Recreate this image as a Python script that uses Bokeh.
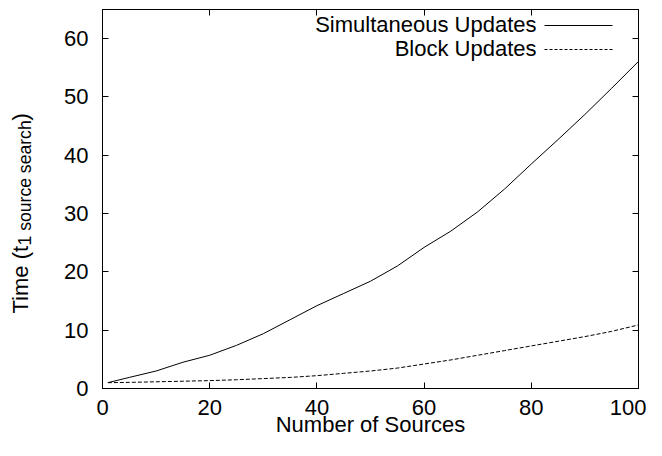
import math
from bokeh.plotting import figure
from bokeh.layouts import row
from bokeh.models import LinearAxis, Label, Range1d, FixedTicker, CustomJSTickFormatter
from bokeh.core.properties import value
from bokeh.embed import file_html
from bokeh.resources import INLINE

# ---- data ----
n_sources = [1, 5, 10, 15, 20, 25, 30, 35, 40, 45, 50, 55, 60, 65, 70, 75, 80, 85, 90, 95, 100]
simultaneous = [1.0, 1.9, 3.0, 4.5, 5.7, 7.4, 9.4, 11.8, 14.2, 16.3, 18.4, 21.0, 24.2, 27.0, 30.3, 34.2, 38.5, 42.7, 47.0, 51.5, 56.1]
block = [1.0, 1.05, 1.15, 1.25, 1.35, 1.5, 1.7, 1.9, 2.2, 2.6, 3.0, 3.5, 4.2, 4.9, 5.7, 6.5, 7.3, 8.1, 8.9, 9.8, 10.9]
x_ticks = [0, 20, 40, 60, 80, 100]
y_ticks = [0, 10, 20, 30, 40, 50, 60]
series_names = ["Simultaneous Updates", "Block Updates"]
x_title = "Number of Sources"
y_title_main = "Time (t"
y_title_sub = "1 source search"
y_title_end = ")"

# ---- layout ----
FONT = "Liberation Sans"
H = 440
LW = 56                     # narrow strip holding the y-axis title
W = 646 - LW                # main figure width
FRAME_L, FRAME_R, FRAME_T, FRAME_B = 102, 638, 9, 388   # frame edges on the page
BL = FRAME_L - LW
BR = LW + W - FRAME_R
BT = FRAME_T
BB = H - FRAME_B
X0, X1, Y0, Y1 = 0, 100, 0, 65
BASELINE_FIX = 8            # bokeh draws "alphabetic" text this much lower


def px_x(px):
    return X0 + (px - FRAME_L) / (FRAME_R - FRAME_L) * (X1 - X0)


def px_y(py):
    return Y0 + (FRAME_B - py) / (FRAME_B - FRAME_T) * (Y1 - Y0)


p = figure(width=W, height=H, x_range=Range1d(X0, X1), y_range=Range1d(Y0, Y1),
           output_backend="svg", toolbar_location=None,
           min_border_left=BL, min_border_right=BR, min_border_top=BT, min_border_bottom=BB)
p.background_fill_color = "white"
p.border_fill_color = "white"
p.outline_line_color = "black"
p.outline_line_width = 1
p.xgrid.visible = False
p.ygrid.visible = False


def style_axis(ax, show_labels=True, standoff=13):
    ax.major_tick_in = 6
    ax.major_tick_out = 0
    ax.minor_tick_in = 0
    ax.minor_tick_out = 0
    ax.axis_line_color = "black"
    ax.major_tick_line_color = "black"
    ax.major_label_text_font = FONT
    ax.major_label_text_color = "black"
    if show_labels:
        ax.major_label_text_font_size = "22px"
        ax.major_label_standoff = standoff
    else:
        ax.major_label_text_font_size = "1px"
        ax.major_label_standoff = 0
        ax.formatter = CustomJSTickFormatter(code="return ''")


p.xaxis.ticker = FixedTicker(ticks=x_ticks)
p.yaxis.ticker = FixedTicker(ticks=y_ticks)
style_axis(p.xaxis[0], standoff=11)
style_axis(p.yaxis[0], standoff=14)
p.xaxis.axis_label = x_title
p.xaxis.axis_label_text_font = FONT
p.xaxis.axis_label_text_font_style = "normal"
p.xaxis.axis_label_text_font_size = "22px"
p.xaxis.axis_label_text_color = "black"
p.xaxis.axis_label_standoff = -6

top_ax = LinearAxis(ticker=FixedTicker(ticks=x_ticks))
style_axis(top_ax, show_labels=False)
p.add_layout(top_ax, "above")
right_ax = LinearAxis(ticker=FixedTicker(ticks=y_ticks))
style_axis(right_ax, show_labels=False)
p.add_layout(right_ax, "right")

# ---- series ----
p.line(n_sources, simultaneous, line_color="black", line_width=1)
p.line(n_sources, block, line_color="black", line_width=1, line_dash="4 2")

# ---- legend (text left, sample right, as in gnuplot) ----
dashes = ["solid", "3 2"]
for i, (name, dash) in enumerate(zip(series_names, dashes)):
    step = 24 * i
    p.add_layout(Label(x=px_x(536), y=px_y(32 + step - BASELINE_FIX), text=name,
                       text_align="right", text_baseline="alphabetic", text_font=FONT,
                       text_font_size="22px", text_color="black"))
    p.line([px_x(544), px_x(612)], [px_y(25 + step)] * 2, line_color="black",
           line_width=1, line_dash=dash)

# ---- y axis title (with subscript) in a narrow strip on the left ----
# the strip's frame is aligned with the main frame, so its y data = page pixels
t = figure(width=LW, height=H, x_range=Range1d(0, LW), y_range=Range1d(FRAME_B, FRAME_T),
           output_backend="svg", toolbar_location=None,
           x_axis_location=None, y_axis_location=None, min_border=0,
           min_border_top=BT, min_border_bottom=BB)
t.outline_line_color = None
t.xgrid.visible = False
t.ygrid.visible = False
t.background_fill_color = "white"
t.border_fill_color = "white"
title_parts = [y_title_main, y_title_sub, y_title_end]
title_base_x = [28, 32, 28]          # baseline positions (page px)
title_start_y = [313, 245, 120]      # start of each part (page px from top)
title_sizes = ["22px", "17.6px", "22px"]
for txt, bx, sy, fs in zip(title_parts, title_base_x, title_start_y, title_sizes):
    t.text(x=[bx - BASELINE_FIX], y=[sy], text=[txt], angle=math.pi / 2, text_align="left",
           text_baseline="alphabetic", text_font=value(FONT), text_font_size=value(fs),
           text_color="black")

layout = row(t, p, spacing=0)
open("out.html", "w").write(file_html(layout, INLINE))
